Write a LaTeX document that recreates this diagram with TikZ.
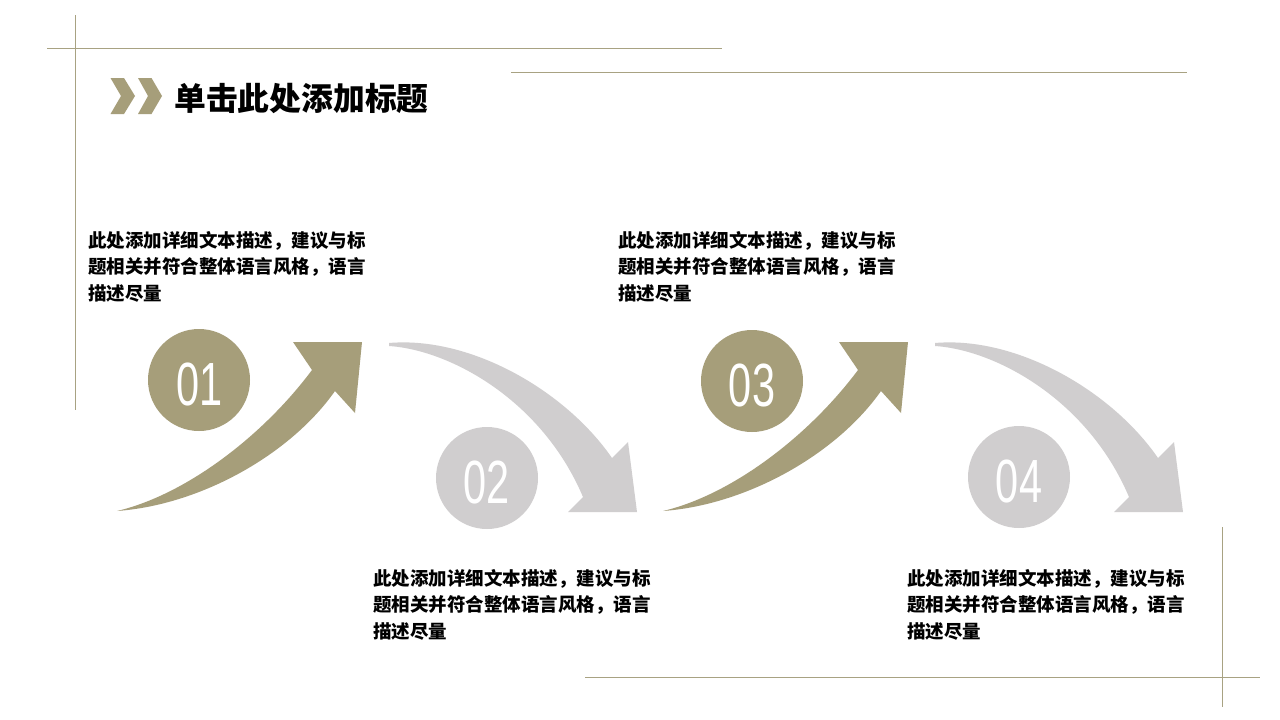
\documentclass[tikz,border=0pt]{standalone}
\usepackage{fontspec}
\usepackage{graphicx}
\newfontfamily\cjk{Noto Sans CJK SC}
\newfontfamily\numfont{Liberation Sans}
\definecolor{olive}{HTML}{A69E7A}
\definecolor{lgray}{HTML}{D0CECF}
\definecolor{rule}{HTML}{A8A282}
\tikzset{
  frameline/.style={draw=rule, line width=1pt},
  numcircle/.style={circle, minimum size=102pt, inner sep=0pt, draw=none},
  numtext/.style={text=white, inner sep=0pt, font=\fontsize{61}{61}\numfont},
  desc/.style={anchor=west, inner sep=0pt, align=left, font=\fontsize{18.5}{26.5}\cjk\bfseries, text=black},
}
\begin{document}
\begin{tikzpicture}[x=1pt,y=-1pt]
\useasboundingbox (0,0) rectangle (1280,720);
\fill[white] (0,0) rectangle (1280,720);
% frame lines
\coordinate (v1a) at (75,15);   \coordinate (v1b) at (75,410);
\coordinate (h1a) at (47,48);   \coordinate (h1b) at (722,48);
\coordinate (h2a) at (511,72);  \coordinate (h2b) at (1187,72);
\coordinate (h3a) at (585,677); \coordinate (h3b) at (1260,677);
\coordinate (v2a) at (1222,527);\coordinate (v2b) at (1222,707);
\draw[frameline] (v1a) -- (v1b);
\draw[frameline] (h1a) -- (h1b);
\draw[frameline] (h2a) -- (h2b);
\draw[frameline] (h3a) -- (h3b);
\draw[frameline] (v2a) -- (v2b);
% chevrons
\fill[olive] (110.5,78) -- (124,78) -- (135,96) -- (124,114) -- (110.5,114) -- (121,96) -- cycle;
\fill[olive] (138,78) -- (151.5,78) -- (162,96) -- (151.5,114) -- (138,114) -- (148,96) -- cycle;
% title
\node[anchor=west, inner sep=0pt, font=\fontsize{31.8}{31.8}\cjk\bfseries] (title) at (174,98) {单击此处添加标题};
% arrows (two groups, second shifted by 546)
\foreach \dx in {0,546}{
  \begin{scope}[xshift=\dx]
  \fill[olive] (117,511) .. controls (200,505) and (290,455) .. (335,391)
     -- (355,413) -- (362,342) -- (293,342) -- (312,370)
     .. controls (262,437) and (185,495) .. (117,511) -- cycle;
  \fill[lgray] (389,343) .. controls (470,336) and (565,390) .. (612,458)
     -- (628,442) -- (637,512) -- (568,512) -- (583,497)
     .. controls (542,400) and (450,350) .. (389,346) -- cycle;
  \end{scope}
}
% circles
\node[numcircle, fill=olive] (c1) at (199,380) {};
\node[numcircle, fill=lgray] (c2) at (487,478) {};
\node[numcircle, fill=olive] (c3) at (752,381) {};
\node[numcircle, fill=lgray] (c4) at (1019,477) {};
\node[numtext] (n1) at (200,384) {\scalebox{0.68}[1]{01}};
\node[numtext] (n2) at (487,482) {\scalebox{0.68}[1]{02}};
\node[numtext] (n3) at (752,385) {\scalebox{0.68}[1]{03}};
\node[numtext] (n4) at (1019,481) {\scalebox{0.68}[1]{04}};
% descriptions
\node[desc] (d1) at (88,266.5) {此处添加详细文本描述，建议与标\\题相关并符合整体语言风格，语言\\描述尽量};
\node[desc] (d2) at (373,604.5) {此处添加详细文本描述，建议与标\\题相关并符合整体语言风格，语言\\描述尽量};
\node[desc] (d3) at (618,266.5) {此处添加详细文本描述，建议与标\\题相关并符合整体语言风格，语言\\描述尽量};
\node[desc] (d4) at (907,604.5) {此处添加详细文本描述，建议与标\\题相关并符合整体语言风格，语言\\描述尽量};
\end{tikzpicture}
\end{document}
